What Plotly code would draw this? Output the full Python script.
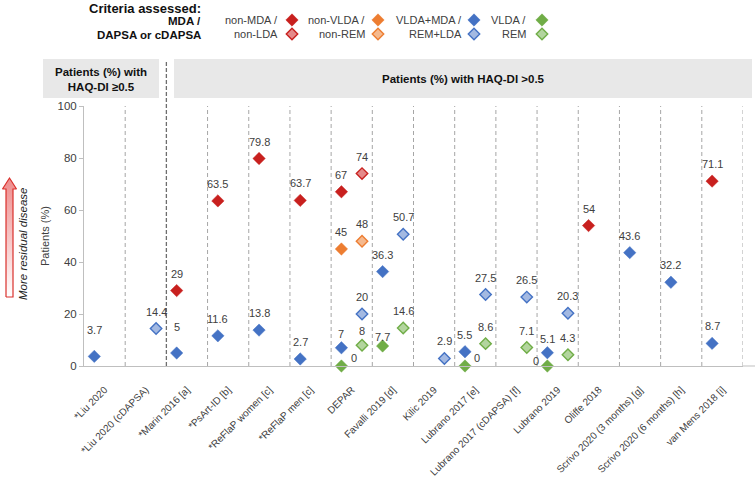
import plotly.graph_objects as go

# ---------------- data ----------------
categories = ["*Liu 2020", "*Liu 2020 (cDAPSA)", "*Marin 2016 [a]", "*PsArt-ID [b]",
              "*ReFlaP women [c]", "*ReFlaP men [c]", "DEPAR", "Favalli 2019 [d]",
              "Kilic 2019", "Lubrano 2017 [e]", "Lubrano 2017 (cDAPSA) [f]", "Lubrano 2019",
              "Oliffe 2018", "Scrivo 2020 (3 months) [g]", "Scrivo 2020 (6 months) [h]",
              "van Mens 2018 [i]"]
N = None
# MDA (solid markers, left position)
non_mda   = [N, N, 29, 63.5, 79.8, 63.7, 67, N, N, N, N, N, 54, N, N, 71.1]
non_vlda  = [N, N, N, N, N, N, 45, N, N, N, N, N, N, N, N, N]
vlda_mda  = [3.7, N, 5, 11.6, 13.8, 2.7, 7, 36.3, N, 5.5, N, 5.1, N, 43.6, 32.2, 8.7]
vlda      = [N, N, N, N, N, N, 0, 7.7, N, 0, N, 0, N, N, N, N]
# DAPSA / cDAPSA (hatched markers, right position)
non_lda   = [N, N, N, N, N, N, 74, N, N, N, N, N, N, N, N, N]
non_rem   = [N, N, N, N, N, N, 48, N, N, N, N, N, N, N, N, N]
rem_lda   = [N, 14.4, N, N, N, N, 20, 50.7, 2.9, 27.5, 26.5, 20.3, N, N, N, N]
rem       = [N, N, N, N, N, N, 8, 14.6, N, 8.6, 7.1, 4.3, N, N, N, N]
y_ticks = [0, 20, 40, 60, 80, 100]

# ---------------- style ----------------
W, H = 755, 480
FONT = "Liberation Sans, Arial, sans-serif"
TXT = "#404040"
RED, ORANGE, BLUE, GREEN = "#C8201E", "#ED7D31", "#4472C4", "#70AD47"
LRED, LORANGE, LBLUE, LGREEN = "#E58A8A", "#F5B98E", "#A3B9E2", "#B3D59E"

series = [
    ("non_mda", non_mda, 0.25, RED, RED, False),
    ("non_vlda", non_vlda, 0.25, ORANGE, ORANGE, False),
    ("vlda_mda", vlda_mda, 0.25, BLUE, BLUE, False),
    ("vlda", vlda, 0.25, GREEN, GREEN, False),
    ("non_lda", non_lda, 0.75, RED, LRED, True),
    ("non_rem", non_rem, 0.75, ORANGE, LORANGE, True),
    ("rem_lda", rem_lda, 0.75, BLUE, LBLUE, True),
    ("rem", rem, 0.75, GREEN, LGREEN, True),
]
# label offsets in px (dx, dy upward); default (0, 17)
label_offsets = {("vlda_mda", 0): (0, 26), ("vlda_mda", 2): (0, 26),
                 ("vlda", 7): (0, 9), ("rem", 6): (0, 14), ("vlda_mda", 6): (0, 14),
                 ("vlda_mda", 11): (0, 14), ("vlda", 6): (13, 8), ("vlda", 9): (12, 8),
                 ("vlda", 11): (-11, 5)}

fig = go.Figure()
ann = []
for name, vals, side, col, fill, hatched in series:
    xs, ys = [], []
    for i, v in enumerate(vals):
        if v is None:
            continue
        xs.append(i + side)
        ys.append(v)
        dx, dy = label_offsets.get((name, i), (0, 17))
        ann.append(dict(x=i + side, y=v, xref="x", yref="y", text=f"{v:g}", showarrow=False,
                        xshift=dx, yshift=dy, font=dict(size=11, color=TXT, family=FONT)))
    fig.add_trace(go.Scatter(
        x=xs, y=ys, mode="markers", cliponaxis=False, showlegend=False, hoverinfo="skip",
        marker=dict(symbol="diamond", size=9.5 if not hatched else 8.8, color=fill,
                    line=dict(color=col if hatched else fill, width=1.4 if hatched else 0.5)),
        xaxis="x", yaxis="y"))

# ------------- overlay (pixel) axes: legend markers + arrow -------------
leg_items = [
    ("non-MDA /", "non-LDA", 280, 292, RED, LRED),
    ("non-VLDA /", "non-REM", 367, 378, ORANGE, LORANGE),
    ("VLDA+MDA /", "REM+LDA", 464, 474, BLUE, LBLUE),
    ("VLDA /", "REM", 528, 542, GREEN, LGREEN),
]
for t1, t2, tx, mx, col, lcol in leg_items:
    fig.add_trace(go.Scatter(x=[mx], y=[20], mode="markers", xaxis="x2", yaxis="y2",
                             showlegend=False, hoverinfo="skip", cliponaxis=False,
                             marker=dict(symbol="diamond", size=9.5, color=col,
                                         line=dict(color=col, width=0.5))))
    fig.add_trace(go.Scatter(x=[mx], y=[34], mode="markers", xaxis="x2", yaxis="y2",
                             showlegend=False, hoverinfo="skip", cliponaxis=False,
                             marker=dict(symbol="diamond", size=8.8, color=lcol,
                                         line=dict(color=col, width=1.4))))
    ann.append(dict(x=tx, y=20, xref="x2", yref="y2", text=t1, showarrow=False, xanchor="right",
                    font=dict(size=11, color=TXT, family=FONT)))
    ann.append(dict(x=tx, y=34, xref="x2", yref="y2", text=t2, showarrow=False, xanchor="right",
                    font=dict(size=11, color=TXT, family=FONT)))

ann += [
    dict(x=203, y=8, xref="x2", yref="y2", text="<b>Criteria assessed:</b>", showarrow=False,
         xanchor="right", font=dict(size=13, color="#111", family=FONT)),
    dict(x=203, y=21, xref="x2", yref="y2", text="<b>MDA /</b>", showarrow=False,
         xanchor="right", font=dict(size=11.5, color="#111", family=FONT)),
    dict(x=203, y=35, xref="x2", yref="y2", text="<b>DAPSA or cDAPSA</b>", showarrow=False,
         xanchor="right", font=dict(size=11.5, color="#111", family=FONT)),
    dict(x=101, y=79, xref="x2", yref="y2", text="<b>Patients (%) with<br>HAQ-DI ≥0.5</b>",
         showarrow=False, font=dict(size=11.5, color="#111", family=FONT)),
    dict(x=463, y=79, xref="x2", yref="y2", text="<b>Patients (%) with HAQ-DI >0.5</b>",
         showarrow=False, font=dict(size=11.5, color="#111", family=FONT)),
    dict(x=45, y=236, xref="x2", yref="y2", text="Patients (%)", textangle=-90,
         showarrow=False, font=dict(size=11, color=TXT, family=FONT)),
    dict(x=23, y=244, xref="x2", yref="y2", text="<i>More residual disease</i>", textangle=-90,
         showarrow=False, font=dict(size=11.5, color="#222", family=FONT)),
]

# arrow with gradient fill
ax_ = [6, 6, 2.5, 9.5, 16.5, 13, 13, 6]
ay_ = [297, 189, 189, 178, 189, 189, 297, 297]
fig.add_trace(go.Scatter(x=ax_, y=ay_, mode="lines", fill="toself", xaxis="x2", yaxis="y2",
                         showlegend=False, hoverinfo="skip", cliponaxis=False,
                         line=dict(color="#D9302C", width=1.2),
                         fillgradient=dict(type="vertical", start=178, stop=297,
                                           colorscale=[[0, "#EE8C8C"], [1, "#FFFFFF"]])))

shapes = [
    dict(type="rect", xref="x2", yref="y2", x0=43, x1=159, y0=59, y1=98,
         fillcolor="#E8E8E8", line=dict(width=0), layer="below"),
    dict(type="rect", xref="x2", yref="y2", x0=174, x1=752, y0=59, y1=98,
         fillcolor="#E8E8E8", line=dict(width=0), layer="below"),
    dict(type="line", xref="x2", yref="y2", x0=743, x1=755, y0=366, y1=366,
         line=dict(color="#BFBFBF", width=1)),
]
for i in range(1, len(categories) + 1):
    if i == 2:
        shapes.append(dict(type="line", xref="x", yref="y2", x0=i, x1=i, y0=366, y1=60,
                           line=dict(color="#6E6E6E", width=1.3, dash="4px,2px")))
    else:
        shapes.append(dict(type="line", xref="x", yref="y", x0=i, x1=i, y0=0, y1=100,
                           line=dict(color="#A6A6A6", width=1, dash="4px,3px")))

fig.update_layout(
    template="none",
    width=W, height=H, margin=dict(l=0, r=0, t=0, b=0, pad=0, autoexpand=False),
    paper_bgcolor="white", plot_bgcolor="rgba(0,0,0,0)",
    font=dict(family=FONT, color=TXT),
    xaxis=dict(domain=[84 / W, 743 / W], range=[0, len(categories)], anchor="y",
               tickvals=[i + 0.5 for i in range(len(categories))], ticktext=categories,
               tickangle=-45, tickfont=dict(size=10, color=TXT, family=FONT),
               ticklabelstandoff=13,
               showgrid=False, zeroline=False, showline=True, linecolor="#BFBFBF",
               ticks="", fixedrange=True, automargin=False),
    yaxis=dict(domain=[1 - 366 / H, 1 - 106 / H], range=[0, 100], anchor="x",
               tickvals=y_ticks, tickfont=dict(size=11.5, color=TXT, family=FONT),
               showgrid=False, zeroline=False, showline=True, linecolor="#BFBFBF",
               ticks="outside", ticklen=4, tickcolor="#BFBFBF", fixedrange=True,
               automargin=False),
    xaxis2=dict(domain=[0, 1], range=[0, W], anchor="y2", visible=False, fixedrange=True,
                automargin=False),
    yaxis2=dict(domain=[0, 1], range=[H, 0], anchor="x2", visible=False, fixedrange=True,
                automargin=False),
    annotations=ann, shapes=shapes,
)

fig.write_html("out.html", config={"displayModeBar": False},
               post_script="document.body.style.margin='0';")
